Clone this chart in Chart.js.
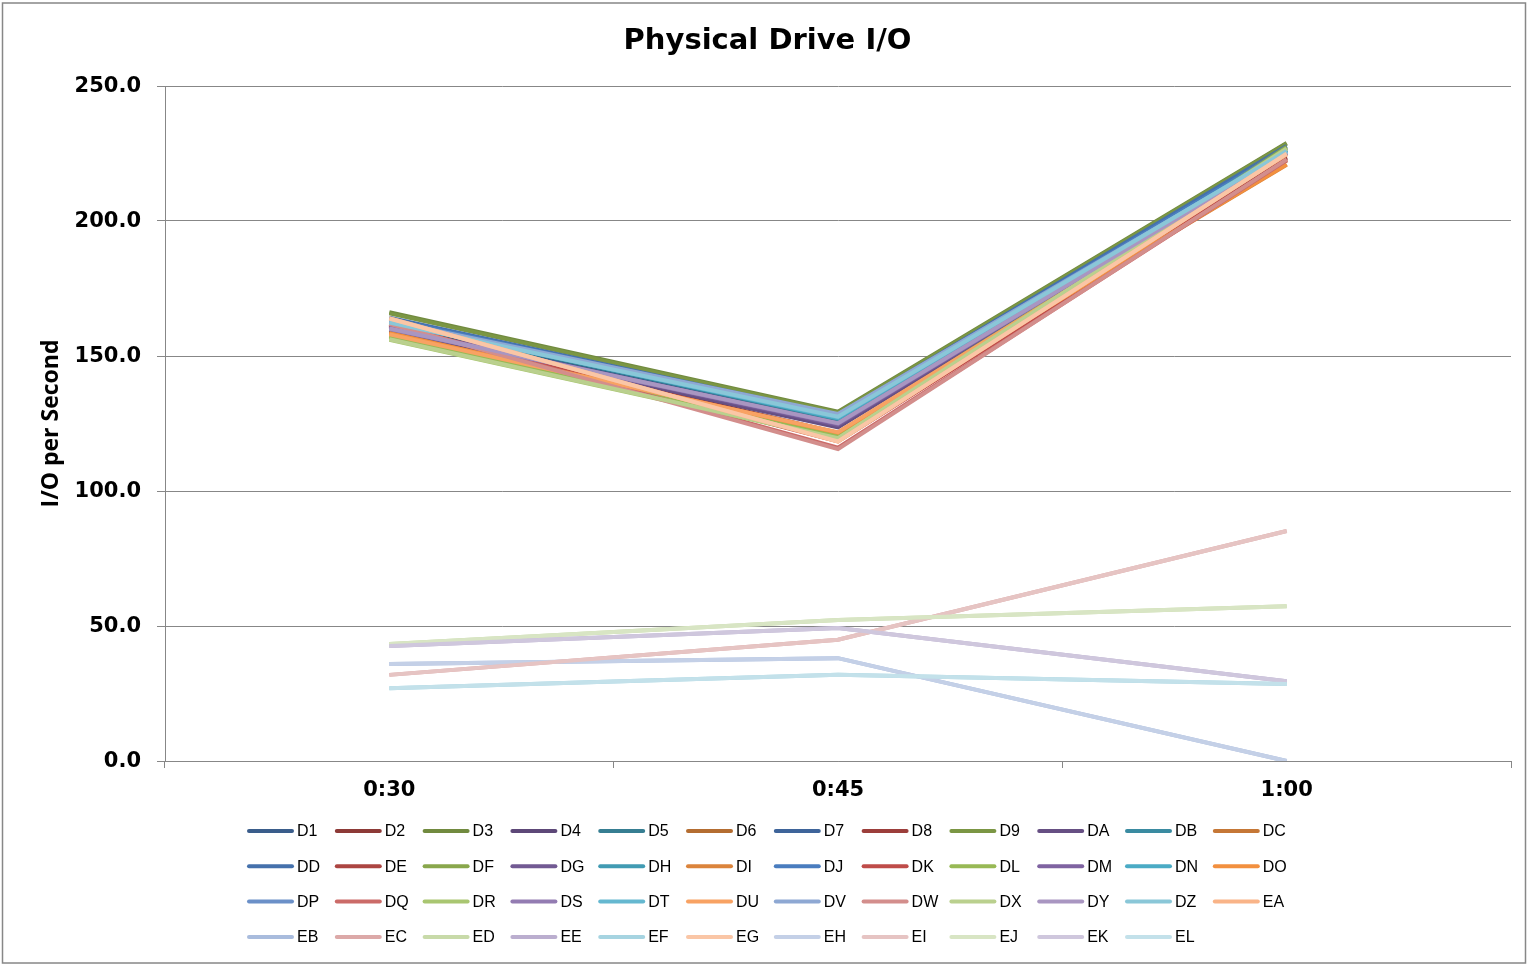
<!DOCTYPE html>
<html>
<head>
<meta charset="utf-8">
<script src="https://cdn.jsdelivr.net/npm/chart.js@4.4.1/dist/chart.umd.min.js"></script>
<style>
  html, body { margin: 0; padding: 0; background: #ffffff; }
  #wrap { width: 1528px; height: 966px; position: relative; }
</style>
</head>
<body>
<div id="wrap"><canvas id="chart" width="1528" height="966"></canvas></div>
<script>
// Sample times on the category axis
const times = ['0:30', '0:45', '1:00'];

// Physical drives, in legend order
const drives = [
  'D1','D2','D3','D4','D5','D6','D7','D8','D9','DA','DB','DC',
  'DD','DE','DF','DG','DH','DI','DJ','DK','DL','DM','DN','DO',
  'DP','DQ','DR','DS','DT','DU','DV','DW','DX','DY','DZ','EA',
  'EB','EC','ED','EE','EF','EG','EH','EI','EJ','EK','EL'
];

// I/O per second at 0:30, one value per drive
const io0030 = [
  161.5, 160.8, 166.2, 160.5, 162.3, 159.0, 163.2, 161.2, 165.8, 159.6, 162.6, 158.6,
  164.2, 161.4, 157.4, 160.3, 163.4, 158.2, 163.6, 161.6, 157.0, 160.6, 162.9, 158.4,
  162.8, 162.0, 156.0, 160.0, 162.5, 158.0, 163.0, 161.9, 156.2, 160.2, 162.4, 164.0,
  35.9, 31.9, 43.3, 42.6, 26.9, 163.9, 35.9, 31.9, 43.3, 42.6, 26.9
];

// I/O per second at 0:45
const io0045 = [
  125.5, 121.5, 129.4, 124.0, 126.8, 121.0, 127.6, 120.8, 129.0, 123.6, 126.6, 120.6,
  128.2, 120.2, 120.8, 124.4, 127.2, 121.4, 127.9, 118.4, 120.4, 124.8, 126.9, 121.6,
  128.3, 116.0, 119.4, 125.0, 127.4, 121.8, 128.5, 115.5, 119.6, 125.1, 127.5, 118.3,
  38.1, 44.9, 52.2, 49.3, 31.9, 118.4, 38.1, 44.9, 52.2, 49.3, 31.9
];

// I/O per second at 1:00
const io0100 = [
  226.0, 223.8, 228.9, 225.2, 226.4, 223.0, 227.2, 223.4, 228.6, 224.8, 226.1, 222.4,
  227.8, 223.2, 227.4, 225.0, 226.6, 220.8, 226.9, 222.6, 227.1, 225.4, 226.2, 221.0,
  225.5, 222.5, 226.9, 225.0, 225.8, 224.6, 225.7, 222.8, 226.8, 225.3, 225.9, 224.8,
  0.0, 85.2, 57.3, 29.5, 28.5, 224.9, 0.0, 85.2, 57.3, 29.5, 28.5
];

// Value-axis tick labels
const yTickValues = [0, 50, 100, 150, 200, 250];

// Line colours: six hues, each repeated in successively lighter shades
const lineColors = [
  '#3a5d8b','#8d3a37','#718a3f','#5d4878','#367e92','#b46d31',
  '#3e649a','#9c3e3b','#7b9644','#664f83','#3a8ba1','#c57736',
  '#4571ac','#ac4542','#89a74c','#725a93','#419bb3','#db843c',
  '#4a7dbf','#bf4c49','#98b955','#7f63a1','#4babc5','#f2903f',
  '#6b90c8','#cb6b68','#a9c671','#937cb2','#65b8d0','#f8a263',
  '#8ea8d3','#d38e8c','#bad08e','#a996c1','#8ac7d8','#f9b488',
  '#a9bcdd','#dca9a8','#c8daa9','#bbaecf','#a6d4e1','#fac6a6',
  '#c4d0e7','#e6c4c3','#d8e5c4','#cfc7dd','#c3e1ea'
];

const gridGray = '#878787';

// Chart frame and the grid-style legend under the plot
const framePlugin = {
  id: 'frame',
  beforeDraw(chart) {
    const { ctx, width, height } = chart;
    ctx.save();
    ctx.fillStyle = '#ffffff';
    ctx.fillRect(0, 0, width, height);
    ctx.strokeStyle = gridGray;
    ctx.lineWidth = 1.5;
    ctx.strokeRect(2.5, 3, width - 5, height - 6);
    ctx.restore();
  },
  afterDraw(chart) {
    const { ctx } = chart;
    const cols = 12, colW = 87.8, rowH = 35.3;
    const x0 = 249, y0 = chart.chartArea.bottom + 70;
    ctx.save();
    ctx.font = '16px "Liberation Sans", Arial, sans-serif';
    ctx.textBaseline = 'middle';
    ctx.textAlign = 'left';
    chart.data.datasets.forEach((ds, i) => {
      const x = x0 + (i % cols) * colW;
      const y = y0 + Math.floor(i / cols) * rowH;
      ctx.strokeStyle = ds.borderColor;
      ctx.lineWidth = 4;
      ctx.lineCap = 'round';
      ctx.beginPath();
      ctx.moveTo(x, y);
      ctx.lineTo(x + 43, y);
      ctx.stroke();
      ctx.fillStyle = '#000000';
      ctx.fillText(ds.label, x + 48, y + 1);
    });
    ctx.restore();
  }
};

const datasets = drives.map((name, i) => ({
  label: name,
  data: [io0030[i], io0045[i], io0100[i]],
  borderColor: lineColors[i],
  backgroundColor: lineColors[i],
  borderWidth: 4,
  pointRadius: 0,
  pointHoverRadius: 0,
  tension: 0,
  fill: false,
  order: drives.length - i
}));

new Chart(document.getElementById('chart'), {
  type: 'line',
  data: { labels: times, datasets },
  plugins: [framePlugin],
  options: {
    responsive: false,
    animation: false,
    devicePixelRatio: 1,
    layout: { padding: { left: 24, right: 17, top: 0, bottom: 0 } },
    plugins: {
      legend: { display: false },
      tooltip: { enabled: false },
      title: {
        display: true,
        text: 'Physical Drive I/O',
        color: '#000000',
        font: { family: '"DejaVu Sans", sans-serif', size: 29, weight: 'bold', lineHeight: 1.2 },
        padding: { top: 24.5, bottom: 26.7 }
      }
    },
    scales: {
      x: {
        type: 'category',
        offset: true,
        grid: {
          offset: true,
          drawOnChartArea: false,
          drawTicks: true,
          tickLength: 7,
          color: gridGray
        },
        border: { display: true, color: gridGray, width: 1 },
        ticks: {
          color: '#000000',
          padding: 10,
          font: { family: '"DejaVu Sans", sans-serif', size: 21, weight: 'bold' }
        },
        afterFit(scale) { scale.height = 205; }
      },
      y: {
        min: 0,
        max: 250,
        afterBuildTicks(scale) { scale.ticks = yTickValues.map(v => ({ value: v })); },
        grid: {
          color: gridGray,
          drawTicks: true,
          tickLength: 8
        },
        border: { display: true, color: gridGray, width: 1 },
        ticks: {
          color: '#000000',
          padding: 16,
          labelOffset: 1,
          font: { family: '"DejaVu Sans", sans-serif', size: 21, weight: 'bold' },
          callback: (v) => Number(v).toFixed(1)
        },
        title: {
          display: true,
          text: 'I/O per Second',
          color: '#000000',
          font: { family: '"Open Sans", sans-serif', size: 23, weight: 'bold', lineHeight: 1.2 },
          padding: { top: 14, bottom: 0 }
        },
        afterFit(scale) { scale.width = 141; }
      }
    }
  }
});
</script>
</body>
</html>
